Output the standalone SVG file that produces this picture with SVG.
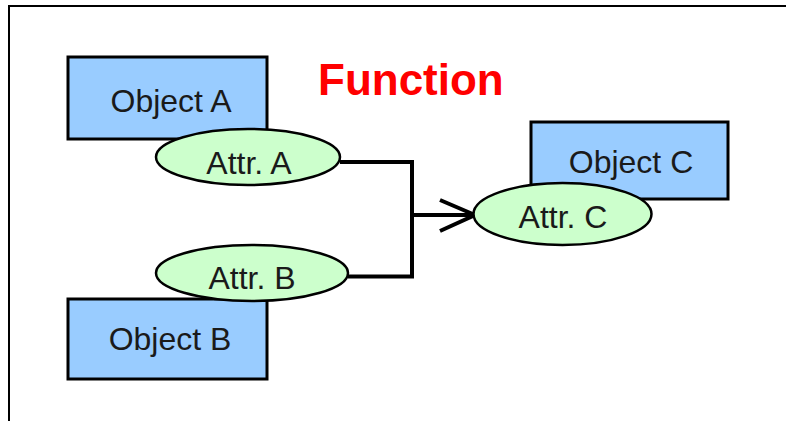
<svg xmlns="http://www.w3.org/2000/svg" width="786" height="421" viewBox="0 0 786 421">
  <style>
    .obj { fill: #99ccff; stroke: #000; stroke-width: 3; }
    .attr { fill: #ccffcc; stroke: #000; stroke-width: 2.5; }
    .lbl { font-family: "Liberation Sans", Arial, sans-serif; font-size: 32px; fill: #1a1a1a; text-anchor: middle; }
    .title { font-family: "Liberation Sans", Arial, sans-serif; font-size: 44px; font-weight: bold; fill: #ff0000; }
    .wire { fill: none; stroke: #000; stroke-width: 4; }
  </style>
  <rect width="786" height="421" fill="#fff"/>
  <!-- frame (top and left edges) -->
  <path d="M9 421 V6 H786" fill="none" stroke="#000" stroke-width="2"/>

  <text class="title" x="318" y="95">Function</text>

  <!-- connectors -->
  <g id="connectors">
    <path class="wire" d="M340 162 H412 V276.5 H348"/>
    <path class="wire" d="M412 215 H472"/>
    <path class="wire" d="M440 200 L475 215 L440 231"/>
  </g>

  <g id="objectA">
    <rect class="obj" x="68" y="57" width="199" height="82"/>
    <text class="lbl" x="171" y="112">Object A</text>
  </g>
  <g id="attrA">
    <ellipse class="attr" cx="248" cy="157" rx="92" ry="28"/>
    <text class="lbl" x="249" y="174">Attr. A</text>
  </g>

  <g id="objectB">
    <rect class="obj" x="68" y="299" width="199" height="80"/>
    <text class="lbl" x="170" y="350">Object B</text>
  </g>
  <g id="attrB">
    <ellipse class="attr" cx="252" cy="273" rx="96" ry="28"/>
    <text class="lbl" x="252" y="289">Attr. B</text>
  </g>

  <g id="objectC">
    <rect class="obj" x="531" y="122" width="197" height="77"/>
    <text class="lbl" x="631" y="173">Object C</text>
  </g>
  <g id="attrC">
    <ellipse class="attr" cx="562.5" cy="214" rx="89" ry="31"/>
    <text class="lbl" x="563" y="228">Attr. C</text>
  </g>
</svg>
